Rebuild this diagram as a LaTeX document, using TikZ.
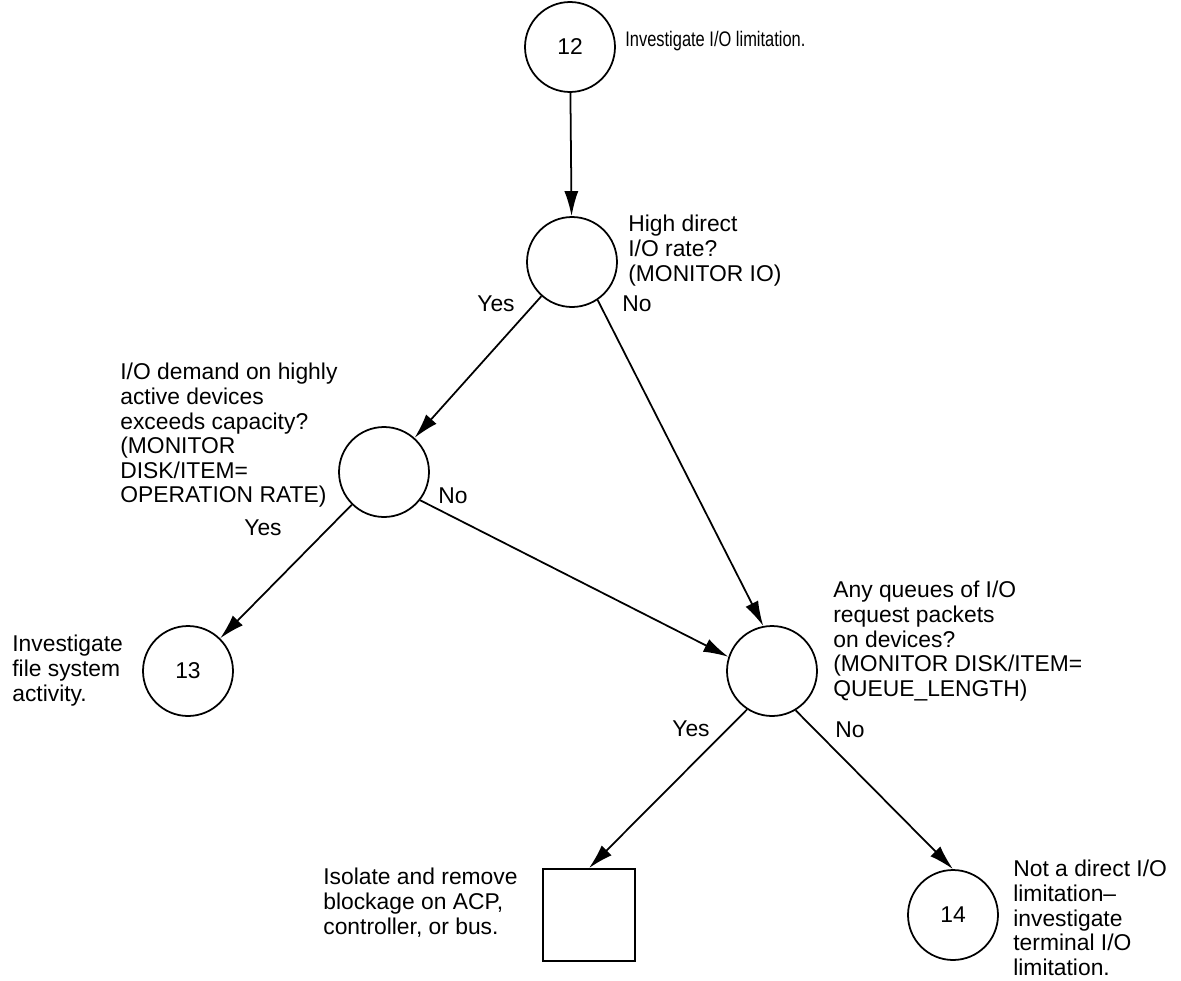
\documentclass[tikz,border=0pt]{standalone}
\usepackage{fontspec}
\setmainfont{Liberation Sans}
\usetikzlibrary{positioning,arrows.meta}

\begin{document}
\begin{tikzpicture}[x=0.02cm, y=-0.02cm, >={Latex[length=5mm,width=2.8mm]},
    every node/.style={font=\fontsize{13}{14}\selectfont},
    bubble/.style={circle, draw, line width=1pt, minimum size=1.8cm, inner sep=0pt},
    note/.style={align=left, inner sep=0pt, anchor=north west},
    ans/.style={inner sep=0pt}]
    \useasboundingbox (0,0) rectangle (1181,981);
    % decision circles and end points
    \node[bubble] (c12) at (570,47) {12};
    \node[bubble] (rate) at (572,262) {};
    \node[bubble] (busy) at (384,472) {};
    \node[bubble] (c13) at (188,671) {13};
    \node[bubble] (queue) at (772,671) {};
    \node[bubble] (c14) at (953,915) {14};
    \node[draw, line width=1pt, minimum size=1.84cm, inner sep=0pt] (fix) at (589,915) {};
    % texts beside them
    \node[inner sep=0pt, anchor=base west] (t12) at (625,46)
        {\scalebox{0.78}[1]{\fontsize{12}{14}\selectfont Investigate I/O limitation.}};
    \node[note] (trate) at (628,215) {High direct\\ I/O rate?\\ (MONITOR IO)};
    \node[note] (tbusy) at (120,363) {I/O demand on highly\\ active devices\\ exceeds capacity?\\ (MONITOR\\ DISK/ITEM=\\ OPERATION RATE)};
    \node[note] (tqueue) at (833,581) {Any queues of I/O\\ request packets\\ on devices?\\ (MONITOR DISK/ITEM=\\ QUEUE\_LENGTH)};
    \node[note] (t13) at (12,635) {Investigate\\ file system\\ activity.};
    \node[note] (tfix) at (323,868) {Isolate and remove\\ blockage on ACP,\\ controller, or bus.};
    \node[note] (t14) at (1013,860) {Not a direct I/O\\ limitation--\\ investigate\\ terminal I/O\\ limitation.};
    % branch answers
    \node[ans] (yrate) at (496,304) {Yes};
    \node[ans] (nrate) at (637,304) {No};
    \node[ans] (ybusy) at (263,528) {Yes};
    \node[ans] (nbusy) at (453,496) {No};
    \node[ans] (yqueue) at (691,729) {Yes};
    \node[ans] (nqueue) at (850,730) {No};
    % connectors
    \draw[->, line width=1pt] (c12) -- (rate);
    \draw[->, line width=1pt] (rate) -- (busy);
    \draw[->, line width=1pt] (rate.-56) -- (queue.101);
    \draw[->, line width=1pt] (busy.-38) -- (queue.162);
    \draw[->, line width=1pt] (busy) -- (c13);
    \draw[->, line width=1pt] (queue.-123) -- (fix.north);
    \draw[->, line width=1pt] (queue.-59) -- (c14.north);
\end{tikzpicture}
\end{document}
